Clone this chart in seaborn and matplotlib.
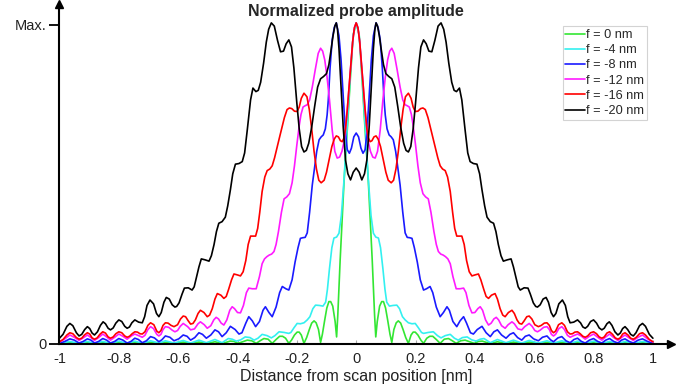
import pandas as pd
import seaborn as sns
import matplotlib.pyplot as plt

# right half (x >= 0) of each profile; curves are mirror-symmetric
x_green = [0, 0.010, 0.020, 0.030, 0.041, 0.054, 0.062, 0.066, 0.071, 0.079, 0.086, 0.092, 0.099,
           0.106, 0.114, 0.120, 0.127, 0.135, 0.142, 0.150, 0.158, 0.167, 0.176, 0.185, 0.192,
           0.199, 0.208, 0.218, 0.227, 0.238, 0.248, 0.258, 0.270, 0.283, 0.297, 0.311, 0.324,
           0.337, 0.352, 0.367, 0.382, 0.398, 0.412, 0.425, 0.452, 0.476, 0.505, 0.530, 0.558,
           0.583, 0.614, 0.643, 0.665, 0.693, 0.721, 0.746, 0.772, 0.800, 0.828, 0.854, 0.882,
           0.906, 0.934, 0.965, 1.0]
y_green = [1.0, 0.963, 0.822, 0.667, 0.505, 0.262, 0.090, 0.022, 0.070, 0.118, 0.132, 0.132, 0.112,
           0.075, 0.030, 0.005, 0.045, 0.066, 0.072, 0.065, 0.045, 0.020, 0.002, 0.028, 0.037,
           0.037, 0.028, 0.012, 0.002, 0.018, 0.024, 0.024, 0.014, 0.002, 0.015, 0.017, 0.010,
           0.002, 0.010, 0.012, 0.007, 0.002, 0.008, 0.009, 0.001, 0.007, 0.001, 0.006, 0.001,
           0.006, 0.001, 0.005, 0.001, 0.005, 0.001, 0.005, 0.001, 0.004, 0.001, 0.004, 0.001,
           0.004, 0.001, 0.004, 0.001]

x_cyan = [0, 0.010, 0.020, 0.030, 0.041, 0.050, 0.058, 0.066, 0.075, 0.082, 0.090, 0.097, 0.103,
          0.112, 0.124, 0.137, 0.146, 0.156, 0.165, 0.176, 0.188, 0.199, 0.210, 0.220, 0.227,
          0.243, 0.260, 0.274, 0.286, 0.300, 0.317, 0.331, 0.344, 0.358, 0.374, 0.389, 0.404,
          0.418, 0.431, 0.452, 0.476, 0.505, 0.530, 0.558, 0.583, 0.614, 0.643, 0.665, 0.693,
          0.721, 0.746, 0.772, 0.800, 0.828, 0.854, 0.882, 0.906, 0.934, 0.965, 1.0]
y_cyan = [1.0, 0.963, 0.838, 0.682, 0.511, 0.400, 0.345, 0.333, 0.330, 0.300, 0.235, 0.170, 0.130,
          0.118, 0.120, 0.121, 0.110, 0.085, 0.075, 0.066, 0.063, 0.064, 0.050, 0.036, 0.033,
          0.036, 0.038, 0.026, 0.019, 0.026, 0.030, 0.018, 0.012, 0.020, 0.022, 0.013, 0.009,
          0.015, 0.017, 0.004, 0.014, 0.004, 0.012, 0.003, 0.011, 0.003, 0.010, 0.003, 0.010,
          0.002, 0.009, 0.002, 0.009, 0.002, 0.008, 0.002, 0.008, 0.002, 0.008, 0.002]

x_blue = [0, 0.008, 0.016, 0.023, 0.030, 0.036, 0.043, 0.051, 0.058, 0.067, 0.074, 0.081, 0.088,
          0.094, 0.098, 0.104, 0.111, 0.118, 0.125, 0.133, 0.140, 0.148, 0.157, 0.165, 0.172,
          0.180, 0.188, 0.196, 0.206, 0.216, 0.227, 0.237, 0.249, 0.258, 0.270, 0.283, 0.294,
          0.306, 0.314, 0.326, 0.339, 0.350, 0.362, 0.372, 0.385, 0.395, 0.408, 0.424, 0.438,
          0.452, 0.464, 0.476, 0.490, 0.505, 0.518, 0.530, 0.544, 0.558, 0.570, 0.583, 0.598,
          0.614, 0.628, 0.643, 0.655, 0.665, 0.680, 0.693, 0.707, 0.721, 0.734, 0.746, 0.759,
          0.772, 0.786, 0.800, 0.814, 0.828, 0.841, 0.854, 0.868, 0.882, 0.894, 0.906, 0.920,
          0.934, 0.950, 0.965, 0.982, 1.0]
y_blue = [0.657, 0.645, 0.610, 0.594, 0.605, 0.657, 0.760, 0.885, 0.960, 1.0, 0.985, 0.947, 0.860,
          0.760, 0.713, 0.670, 0.651, 0.645, 0.636, 0.600, 0.550, 0.495, 0.410, 0.346, 0.332,
          0.331, 0.329, 0.300, 0.255, 0.200, 0.168, 0.172, 0.179, 0.160, 0.115, 0.085, 0.098,
          0.116, 0.105, 0.070, 0.054, 0.072, 0.085, 0.065, 0.035, 0.031, 0.045, 0.055, 0.035,
          0.023, 0.038, 0.044, 0.028, 0.018, 0.030, 0.035, 0.020, 0.012, 0.024, 0.028, 0.016,
          0.010, 0.021, 0.025, 0.013, 0.007, 0.019, 0.023, 0.010, 0.004, 0.014, 0.018, 0.008,
          0.003, 0.012, 0.017, 0.008, 0.003, 0.012, 0.017, 0.008, 0.003, 0.012, 0.016, 0.008,
          0.003, 0.012, 0.016, 0.008, 0.002]

x_magenta = [0, 0.006, 0.012, 0.018, 0.024, 0.030, 0.036, 0.041, 0.048, 0.056, 0.064, 0.072, 0.081,
             0.090, 0.098, 0.106, 0.113, 0.120, 0.128, 0.138, 0.148, 0.157, 0.165, 0.172, 0.179,
             0.186, 0.192, 0.200, 0.208, 0.216, 0.225, 0.234, 0.243, 0.252, 0.262, 0.270, 0.277,
             0.285, 0.293, 0.301, 0.309, 0.317, 0.326, 0.337, 0.350, 0.362, 0.370, 0.380, 0.390,
             0.400, 0.410, 0.418, 0.426, 0.436, 0.446, 0.455, 0.464, 0.472, 0.480, 0.490, 0.502,
             0.512, 0.525, 0.533, 0.545, 0.558, 0.568, 0.583, 0.593, 0.602, 0.611, 0.620, 0.632,
             0.643, 0.651, 0.658, 0.665, 0.672, 0.683, 0.693, 0.702, 0.712, 0.721, 0.733, 0.746,
             0.758, 0.772, 0.786, 0.800, 0.814, 0.828, 0.841, 0.854, 0.868, 0.882, 0.894, 0.906,
             0.920, 0.934, 0.950, 0.965, 0.982, 1.0]
y_magenta = [1.0, 0.985, 0.940, 0.870, 0.800, 0.730, 0.670, 0.630, 0.600, 0.582, 0.579, 0.600, 0.667,
             0.760, 0.830, 0.885, 0.912, 0.921, 0.905, 0.854, 0.800, 0.760, 0.745, 0.742, 0.738,
             0.715, 0.680, 0.620, 0.555, 0.502, 0.468, 0.458, 0.452, 0.410, 0.350, 0.310, 0.288,
             0.280, 0.277, 0.272, 0.265, 0.250, 0.210, 0.172, 0.172, 0.174, 0.160, 0.120, 0.097,
             0.098, 0.110, 0.116, 0.105, 0.075, 0.059, 0.065, 0.078, 0.083, 0.075, 0.057, 0.049,
             0.060, 0.069, 0.063, 0.047, 0.044, 0.054, 0.064, 0.055, 0.042, 0.038, 0.043, 0.052,
             0.054, 0.045, 0.030, 0.025, 0.030, 0.048, 0.054, 0.045, 0.027, 0.021, 0.026, 0.031,
             0.025, 0.015, 0.024, 0.031, 0.021, 0.012, 0.022, 0.031, 0.020, 0.011, 0.020, 0.028,
             0.019, 0.011, 0.021, 0.028, 0.016, 0.006]

x_red = [0, 0.006, 0.012, 0.018, 0.024, 0.030, 0.036, 0.041, 0.047, 0.053, 0.060, 0.067, 0.074,
         0.082, 0.091, 0.100, 0.108, 0.118, 0.126, 0.134, 0.142, 0.150, 0.158, 0.166, 0.176,
         0.185, 0.192, 0.199, 0.208, 0.217, 0.225, 0.233, 0.242, 0.250, 0.258, 0.266, 0.275,
         0.283, 0.291, 0.300, 0.308, 0.317, 0.325, 0.332, 0.339, 0.347, 0.356, 0.364, 0.372,
         0.381, 0.390, 0.400, 0.412, 0.420, 0.430, 0.438, 0.446, 0.456, 0.468, 0.476, 0.485,
         0.494, 0.502, 0.513, 0.525, 0.533, 0.542, 0.550, 0.558, 0.566, 0.575, 0.583, 0.592,
         0.602, 0.614, 0.624, 0.634, 0.643, 0.651, 0.658, 0.665, 0.672, 0.682, 0.693, 0.702,
         0.712, 0.721, 0.729, 0.737, 0.746, 0.755, 0.764, 0.772, 0.780, 0.790, 0.800, 0.810,
         0.819, 0.828, 0.836, 0.845, 0.854, 0.864, 0.873, 0.882, 0.890, 0.898, 0.906, 0.916,
         0.925, 0.934, 0.943, 0.955, 0.965, 0.975, 0.988, 1.0]
y_red = [1.0, 0.985, 0.940, 0.870, 0.800, 0.730, 0.670, 0.642, 0.630, 0.633, 0.645, 0.648, 0.638,
         0.615, 0.575, 0.535, 0.510, 0.502, 0.510, 0.545, 0.600, 0.670, 0.730, 0.770, 0.781,
         0.765, 0.738, 0.724, 0.725, 0.733, 0.735, 0.730, 0.705, 0.675, 0.645, 0.615, 0.580,
         0.555, 0.545, 0.540, 0.520, 0.475, 0.410, 0.360, 0.336, 0.336, 0.336, 0.310, 0.260,
         0.225, 0.212, 0.215, 0.218, 0.200, 0.170, 0.148, 0.142, 0.152, 0.157, 0.140, 0.110,
         0.090, 0.085, 0.098, 0.105, 0.095, 0.075, 0.064, 0.062, 0.072, 0.085, 0.087, 0.078,
         0.060, 0.054, 0.058, 0.065, 0.066, 0.058, 0.042, 0.035, 0.040, 0.060, 0.066, 0.058,
         0.038, 0.031, 0.032, 0.037, 0.038, 0.032, 0.024, 0.021, 0.025, 0.035, 0.038, 0.032,
         0.022, 0.018, 0.022, 0.034, 0.038, 0.030, 0.019, 0.015, 0.019, 0.031, 0.035, 0.028,
         0.018, 0.015, 0.020, 0.032, 0.035, 0.028, 0.014, 0.007]

x_black = [0, 0.010, 0.019, 0.028, 0.036, 0.044, 0.051, 0.058, 0.063, 0.067, 0.072, 0.078, 0.084,
           0.092, 0.100, 0.110, 0.120, 0.130, 0.140, 0.150, 0.160, 0.168, 0.176, 0.184, 0.192,
           0.200, 0.210, 0.218, 0.227, 0.236, 0.245, 0.255, 0.265, 0.276, 0.286, 0.295, 0.303,
           0.312, 0.322, 0.330, 0.338, 0.348, 0.356, 0.367, 0.376, 0.384, 0.395, 0.407, 0.416,
           0.424, 0.433, 0.441, 0.452, 0.463, 0.471, 0.479, 0.488, 0.496, 0.509, 0.522, 0.530,
           0.539, 0.546, 0.553, 0.566, 0.579, 0.587, 0.597, 0.605, 0.611, 0.620, 0.630, 0.640,
           0.648, 0.657, 0.665, 0.673, 0.683, 0.695, 0.705, 0.713, 0.721, 0.733, 0.746, 0.756,
           0.764, 0.772, 0.780, 0.790, 0.800, 0.810, 0.819, 0.828, 0.836, 0.845, 0.853, 0.862,
           0.872, 0.882, 0.890, 0.898, 0.906, 0.915, 0.925, 0.934, 0.943, 0.955, 0.965, 0.975,
           0.988, 1.0]
y_black = [0.548, 0.535, 0.511, 0.530, 0.573, 0.680, 0.800, 0.920, 0.980, 1.0, 0.990, 0.960, 0.920,
           0.870, 0.842, 0.833, 0.826, 0.800, 0.740, 0.675, 0.625, 0.603, 0.598, 0.615, 0.670,
           0.750, 0.860, 0.925, 0.947, 0.935, 0.912, 0.910, 0.945, 0.990, 1.0, 0.980, 0.940,
           0.875, 0.815, 0.790, 0.786, 0.797, 0.760, 0.667, 0.595, 0.568, 0.562, 0.560, 0.530,
           0.480, 0.430, 0.395, 0.381, 0.376, 0.350, 0.310, 0.275, 0.258, 0.262, 0.265, 0.240,
           0.205, 0.178, 0.168, 0.175, 0.174, 0.155, 0.128, 0.117, 0.115, 0.122, 0.140, 0.145,
           0.130, 0.098, 0.085, 0.095, 0.125, 0.137, 0.120, 0.085, 0.066, 0.068, 0.075, 0.066,
           0.053, 0.049, 0.055, 0.070, 0.075, 0.065, 0.050, 0.044, 0.049, 0.063, 0.069, 0.058,
           0.038, 0.028, 0.034, 0.048, 0.054, 0.045, 0.030, 0.025, 0.035, 0.057, 0.064, 0.055,
           0.030, 0.018]

labels = ['f = 0 nm', 'f = -4 nm', 'f = -8 nm', 'f = -12 nm', 'f = -16 nm', 'f = -20 nm']
colors = ['#33e633', '#33f0f0', '#1a1aff', '#ff1aff', '#ff0000', '#000000']
halves = [(x_green, y_green), (x_cyan, y_cyan), (x_blue, y_blue),
          (x_magenta, y_magenta), (x_red, y_red), (x_black, y_black)]


def mirror(xs, ys):
    # build the full symmetric profile from the x >= 0 half
    full_x = [-v for v in reversed(xs[1:])] + list(xs)
    full_y = list(reversed(ys[1:])) + list(ys)
    return full_x, full_y


rows = []
for lab, (xs, ys) in zip(labels, halves):
    fx, fy = mirror(xs, ys)
    for a, b in zip(fx, fy):
        rows.append({'x': a, 'amp': b, 'focus': lab})
df = pd.DataFrame(rows)

sns.set_style('white')
plt.rcParams['font.family'] = ['Liberation Sans', 'DejaVu Sans']

fig = plt.figure(figsize=(6.86, 3.89), dpi=100)
ax = fig.add_axes([0.0867, 0.1157, 0.891, 0.875])

sns.lineplot(data=df, x='x', y='amp', hue='focus', hue_order=labels,
             palette=dict(zip(labels, colors)), estimator=None, sort=True,
             linewidth=1.2, ax=ax)

ax.set_xlim(-1, 1.06)
ax.set_ylim(0, 1.06)
ax.set_xticks([-1, -0.8, -0.6, -0.4, -0.2, 0, 0.2, 0.4, 0.6, 0.8, 1])
ax.set_xticklabels(['-1', '-0.8', '-0.6', '-0.4', '-0.2', '0', '0.2', '0.4', '0.6', '0.8', '1'])
ax.set_yticks([0, 0.994])
ax.set_yticklabels(['0', 'Max.'])
ax.tick_params(axis='x', bottom=True, direction='in', length=3, width=0.8, color='#aaaaaa',
               labelsize=10.5, labelcolor='#222222', pad=6)
ax.tick_params(axis='y', left=True, direction='out', length=7, width=1.3, color='black',
               labelsize=10.5, labelcolor='#222222', pad=2)
ax.set_xlabel('Distance from scan position [nm]', fontsize=11.5, color='#222222', labelpad=2)
ax.xaxis.label.set_x(0.485)  # centred under x = 0 like the original
ax.set_ylabel('')

for side in ['top', 'right']:
    ax.spines[side].set_visible(False)
for side in ['left', 'bottom']:
    ax.spines[side].set_linewidth(1.5)
    ax.spines[side].set_color('black')
# arrow heads on the axes
ax.plot(1, 0, '>', color='black', markersize=6, transform=ax.get_yaxis_transform(), clip_on=False)
ax.plot(0, 1, '^', color='black', markersize=6, transform=ax.transAxes, clip_on=False)

ax.text(0, 1.037, 'Normalized probe amplitude', ha='center', va='center',
        fontsize=11.5, fontweight='bold')

handles, _ = ax.get_legend_handles_labels()
leg = ax.legend(handles, labels, loc='upper left', bbox_to_anchor=(0.820, 0.932),
                bbox_transform=fig.transFigure, fontsize=9.2, frameon=True, fancybox=False,
                handlelength=1.55, handletextpad=0.12, labelspacing=0.25, borderpad=0.2,
                borderaxespad=0)
leg.get_frame().set_edgecolor('#c8c8c8')
leg.get_frame().set_linewidth(0.8)

fig.savefig('out.png', dpi=100)
